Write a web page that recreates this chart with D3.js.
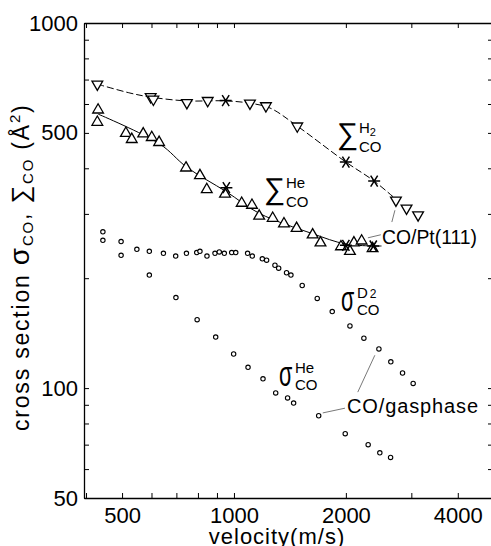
<!DOCTYPE html>
<html>
<head>
<meta charset="utf-8">
<script src="https://cdn.jsdelivr.net/npm/d3@7"></script>
<style>
  body { margin: 0; background: #fff; }
  text { font-family: "Liberation Sans", Arial, sans-serif; fill: #000; }
</style>
</head>
<body>
<script>
// ticks
var xLabelTicks = [500, 1000, 2000, 4000]
var xMinorTicks = [400, 600, 700, 800, 900, 3000]
var yLabelTicks = [50, 100, 500, 1000]
var yMinorTicks = [60, 70, 80, 90, 200, 300, 400, 600, 700, 800, 900]

// Sum_CO^H2 : down triangles, asterisks and the dashed guide
var h2Triangles = [[429, 680], [597, 628], [607, 618], [747, 605], [850, 613], [1104, 603], [1219, 593],
                   [1480, 522], [2727, 327], [2912, 311], [3128, 298]]
var h2Stars = [[950, 613], [2000, 416], [2383, 369]]
var h2Fit = [[429, 680], [525, 643], [595, 627], [743, 612], [950, 612], [1104, 603], [1250, 585],
             [1480, 522], [2000, 416], [2383, 369], [2727, 329]]

// Sum_CO^He : up triangles, asterisks and the solid guide
var heTriangles = [[431, 578], [429, 535], [512, 499], [531, 480], [570, 497], [601, 486], [629, 471],
                   [743, 401], [810, 382], [845, 350], [946, 340], [1049, 321], [1118, 317], [1169, 296],
                   [1271, 292], [1363, 282], [1474, 274], [1628, 263], [1709, 250], [1940, 244],
                   [2051, 237], [2102, 250], [2205, 253], [2360, 241]]
var heStars = [[954, 354], [2000, 246], [2370, 245]]
var heFit = [[431, 563], [632, 466], [746, 403], [954, 345], [1170, 301], [1624, 265], [2004, 248], [2494, 245]]

// sigma_CO (gas phase) : open circles
var d2Circles = [[444, 268], [497, 252], [548, 240], [592, 237], [646, 234], [697, 230], [745, 234], [794, 235],
                 [810, 237], [846, 230], [889, 234], [913, 236], [942, 234], [986, 235], [1011, 235],
                 [1088, 234], [1120, 230], [1192, 226], [1224, 224], [1289, 217], [1319, 213], [1385, 207],
                 [1423, 204], [1526, 191], [1675, 176], [1838, 162], [2051, 148], [2236, 137], [2454, 128],
                 [2642, 118], [2841, 110], [3034, 103]]
var heCircles = [[444, 254], [497, 231], [592, 204], [698, 177], [796, 154], [893, 138], [998, 124],
                 [1091, 114], [1197, 106], [1295, 97], [1394, 94], [1447, 91], [1690, 84], [1992, 75],
                 [2296, 70], [2468, 66.5], [2638, 64.6]]

// leader lines of the two labels
var ptLeaders = [[[2659, 285], [2710, 307]], [[2292, 258], [2483, 263]]]
var gasLeaders = [[[1733, 85.5], [1989, 88.1]], [[2153, 97.5], [2393, 123]]]

var width = 491
var height = 546
var mLeft = 84, mRight = 493, mTop = 23, mBottom = 498

var x = d3.scaleLog().domain([395, 4975]).range([mLeft, mRight])
var y = d3.scaleLog().domain([50, 1000]).range([mBottom, mTop])

var svg = d3.select("body").append("svg")
            .attr("width", width)
            .attr("height", height)

function styleAxis(g) {
  g.attr("font-family", null).attr("font-size", null)
  g.select(".domain").attr("stroke", "#000").attr("stroke-width", 1.3)
  g.selectAll(".tick line").attr("stroke", "#000").attr("stroke-width", 1)
  g.selectAll(".tick text").style("font-size", "22px").attr("fill", "#000")
}

var xTicks = xLabelTicks.concat(xMinorTicks)
var yTicks = yLabelTicks.concat(yMinorTicks)
var xFmt = function(d) { return xLabelTicks.indexOf(d) >= 0 ? d : "" }
var yFmt = function(d) { return yLabelTicks.indexOf(d) >= 0 ? d : "" }

svg.append("g").attr("transform", "translate(0," + mBottom + ")")
   .call(d3.axisBottom(x).tickValues(xTicks).tickFormat(xFmt).tickSizeInner(-5).tickSizeOuter(0).tickPadding(9))
   .call(styleAxis)
svg.append("g").attr("transform", "translate(0," + mTop + ")")
   .call(d3.axisTop(x).tickValues(xTicks).tickFormat("").tickSizeInner(-5).tickSizeOuter(0))
   .call(styleAxis)
svg.append("g").attr("transform", "translate(" + mLeft + ",0)")
   .call(d3.axisLeft(y).tickValues(yTicks).tickFormat(yFmt).tickSizeInner(-5).tickSizeOuter(0).tickPadding(6))
   .call(styleAxis)
svg.append("g").attr("transform", "translate(" + mRight + ",0)")
   .call(d3.axisRight(y).tickValues(yTicks).tickFormat("").tickSizeInner(-5).tickSizeOuter(0))
   .call(styleAxis)

// guide curves
var line = d3.line()
             .x(function(d) { return x(d[0]) })
             .y(function(d) { return y(d[1]) })
             .curve(d3.curveCatmullRom)

svg.append("path").datum(h2Fit)
   .attr("d", line).attr("fill", "none").attr("stroke", "#000")
   .attr("stroke-width", 1).attr("stroke-dasharray", "7,3")
svg.append("path").datum(heFit)
   .attr("d", line).attr("fill", "none").attr("stroke", "#000").attr("stroke-width", 1)

// leaders
var straight = d3.line().x(function(d) { return x(d[0]) }).y(function(d) { return y(d[1]) })
svg.selectAll(".leader")
   .data(ptLeaders.concat(gasLeaders))
   .enter().append("path")
   .attr("class", "leader")
   .attr("d", straight)
   .attr("fill", "none").attr("stroke", "#555").attr("stroke-width", 0.8)

// markers
var tri = d3.symbol().type(d3.symbolTriangle).size(50)

svg.selectAll(".h2tri")
   .data(h2Triangles).enter().append("path")
   .attr("class", "h2tri")
   .attr("d", tri)
   .attr("transform", function(d) { return "translate(" + x(d[0]) + "," + y(d[1]) + ") rotate(180)" })
   .attr("fill", "#fff").attr("stroke", "#000").attr("stroke-width", 1.3)

svg.selectAll(".hetri")
   .data(heTriangles).enter().append("path")
   .attr("class", "hetri")
   .attr("d", tri)
   .attr("transform", function(d) { return "translate(" + x(d[0]) + "," + y(d[1]) + ")" })
   .attr("fill", "#fff").attr("stroke", "#000").attr("stroke-width", 1.3)

var circles = [{cls: "d2", data: d2Circles}, {cls: "hec", data: heCircles}]
circles.forEach(function(s) {
  svg.selectAll("." + s.cls)
     .data(s.data).enter().append("circle")
     .attr("class", s.cls)
     .attr("cx", function(d) { return x(d[0]) })
     .attr("cy", function(d) { return y(d[1]) })
     .attr("r", 2.2)
     .attr("fill", "#fff").attr("stroke", "#000").attr("stroke-width", 1.1)
})

// asterisk: horizontal bar plus two diagonals
var star = "M-6,0L6,0M-3.5,-5.5L3.5,5.5M-3.5,5.5L3.5,-5.5"
svg.selectAll(".star")
   .data(h2Stars.concat(heStars)).enter().append("path")
   .attr("class", "star")
   .attr("d", star)
   .attr("transform", function(d) { return "translate(" + x(d[0]) + "," + y(d[1]) + ")" })
   .attr("fill", "none").attr("stroke", "#000").attr("stroke-width", 1.5)

// labels
function sumLabel(px, py, sup, sub) {
  var g = svg.append("g").attr("transform", "translate(" + px + "," + py + ")")
  g.append("text").attr("x", -1).attr("y", 20).style("font-size", "30px").text("\u2211")
  var t = g.append("text").attr("x", 21).attr("y", 9).style("font-size", "15px").text(sup[0])
  if (sup[1]) t.append("tspan").attr("dy", 3).style("font-size", "11px").text(sup[1])
  g.append("text").attr("x", 21).attr("y", 28).style("font-size", "15px").text(sub)
}
function sigmaLabel(px, py, sup, sub) {
  var g = svg.append("g").attr("transform", "translate(" + px + "," + py + ")")
  g.append("text").attr("transform", "translate(0,19) scale(0.6,1)").style("font-size", "36px").text("\u03c3")
  var t = g.append("text").attr("x", 16).attr("y", 6).style("font-size", "15px").text(sup[0])
  if (sup[1]) t.append("tspan").attr("dx", 2).style("font-size", "12px").text(sup[1])
  g.append("text").attr("x", 16).attr("y", 23).style("font-size", "15px").text(sub)
}

sumLabel(338, 124, ["H", "2"], "CO")
sumLabel(265, 179, ["He"], "CO")
sigmaLabel(341, 292, ["D", "2"], "CO")
sigmaLabel(279, 367, ["He"], "CO")

svg.append("text").attr("x", 382).attr("y", 244).style("font-size", "20px")
   .attr("textLength", 95).attr("lengthAdjust", "spacingAndGlyphs").text("CO/Pt(111)")
svg.append("text").attr("x", 347).attr("y", 413).style("font-size", "20px")
   .attr("textLength", 131).attr("lengthAdjust", "spacing").text("CO/gasphase")

// axis titles
svg.append("text")
   .attr("x", 277).attr("y", 544)
   .attr("text-anchor", "middle")
   .style("font-size", "22px").style("letter-spacing", "1px")
   .text("velocity(m/s)")

var yt = svg.append("text")
            .attr("transform", "translate(29,431) rotate(-90)")
            .style("font-size", "23px").style("letter-spacing", "1.8px")
yt.append("tspan").text("cross section ")
yt.append("tspan").style("font-size", "28px").text("\u03c3")
yt.append("tspan").attr("dy", 4).style("font-size", "15px").text("CO")
yt.append("tspan").attr("dy", -4).text(", ")
yt.append("tspan").style("font-size", "25px").text("\u2211")
yt.append("tspan").attr("dy", 4).style("font-size", "15px").text("CO")
yt.append("tspan").attr("dy", -4).text(" (\u00c5")
yt.append("tspan").attr("dy", -9).style("font-size", "15px").text("2")
yt.append("tspan").attr("dy", 9).text(")")
</script>
</body>
</html>
